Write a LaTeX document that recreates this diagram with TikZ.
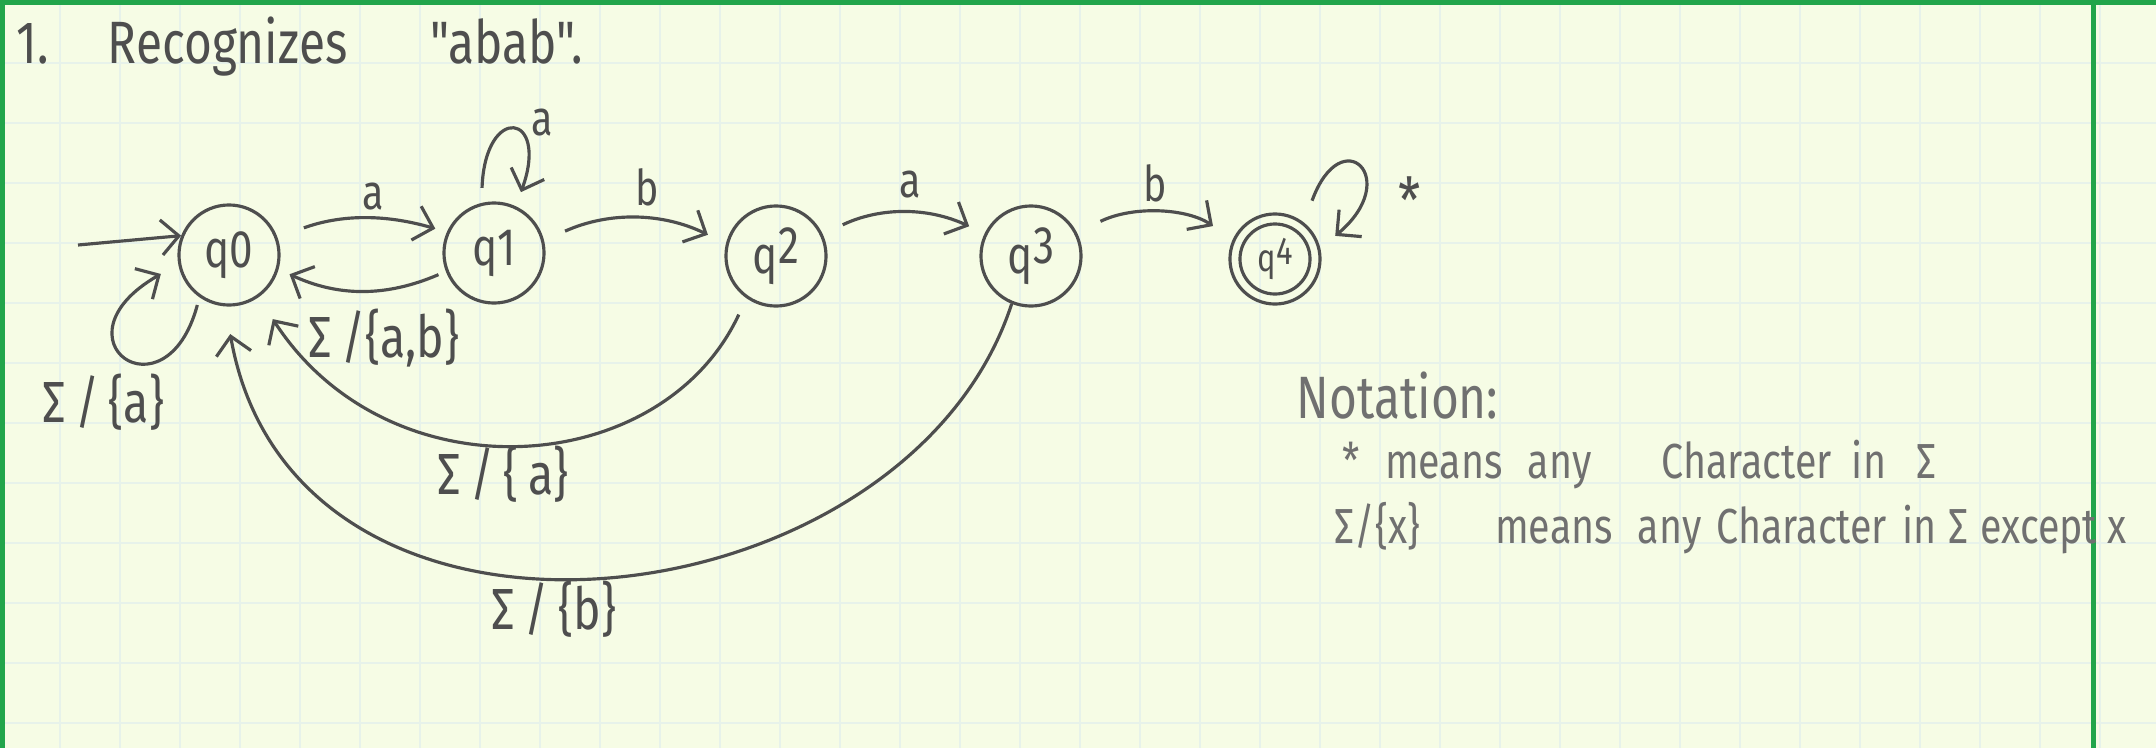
\documentclass[tikz,border=0pt]{standalone}
\usepackage{fontspec}
\setmainfont{Fira Sans}[FakeStretch=0.8]
\newfontfamily\plainquote{Fira Sans}[FakeStretch=0.8]
\usetikzlibrary{arrows.meta}
\definecolor{paper}{RGB}{246,252,229}
\definecolor{gridc}{RGB}{231,242,234}
\definecolor{border}{RGB}{34,165,75}
\definecolor{pencil}{RGB}{78,78,78}
\definecolor{pencilL}{RGB}{112,112,112}
\begin{document}
\begin{tikzpicture}[x=0.01cm, y=0.01cm,
  st/.style={circle, draw=pencil, line width=0.9pt, minimum size=1cm, inner sep=0pt,
    text=pencil, font=\fontsize{15}{15}\selectfont},
  tr/.style={draw=pencil, line width=0.9pt,
    -{Straight Barb[length=5pt,width=10pt,line width=0.9pt]}},
  lab/.style={text=pencil, inner sep=0pt},
  small/.style={font=\fontsize{14}{14}\selectfont},
  sig/.style={font=\fontsize{16.5}{16.5}\selectfont},
  note/.style={text=pencilL, inner sep=0pt, anchor=base west, font=\fontsize{14}{14}\selectfont}
]
% paper
\fill[paper] (0,0) rectangle (2156,-748);
\useasboundingbox (0,0) rectangle (2156,-748);
\foreach \gx in {60,120,...,2156} \draw[gridc, line width=0.5pt] (\gx,0) -- (\gx,-748);
\foreach \gy in {3,63,...,748} \draw[gridc, line width=0.5pt] (0,-\gy) -- (2156,-\gy);
\fill[border] (0,0) rectangle (2156,-5);
\fill[border] (0,0) rectangle (5,-748);
\fill[border] (2091,0) rectangle (2096,-748);

% title
\node[lab, anchor=base west, font=\fontsize{17}{17}\selectfont] (title) at (16,-63)
  {1.\hspace{0.59cm}Recognizes\hspace{0.83cm}{\plainquote "abab".}};

% states
\node[st] (q0) at (229,-255) {q0};
\node[st] (q1) at (494,-253) {q1};
\node[st] (q2) at (776,-256) {q\raisebox{0.35ex}{2}};
\node[st] (q3) at (1031,-256) {q\raisebox{0.35ex}{3}};
\node[st, minimum size=0.7cm, font=\fontsize{11}{11}\selectfont] (q4) at (1275,-259) {q\raisebox{0.3ex}{4}};
\draw[pencil, line width=0.9pt] (q4.center) circle[radius=0.45cm];

% initial arrow
\coordinate (init) at (78,-245);
\draw[tr] (init) -- (q0.158);

% transitions
\draw[tr, shorten <=0.28cm, shorten >=0.12cm] (q0.20) to[bend left=18] (q1.156);
\draw[tr, shorten <=0.08cm, shorten >=0.12cm] (q1.-159) to[bend left=24] (q0.-16);
\draw[tr, shorten <=0.15cm, shorten >=0.15cm] (q1.104) .. controls +(88:1cm) and +(70:1cm) .. (q1.65);
\draw[tr, shorten <=0.23cm, shorten >=0.2cm] (q1.14) to[bend left=25] (q2.166);
\draw[tr, shorten <=0.22cm, shorten >=0.17cm] (q2.25) to[bend left=25] (q3.154);
\draw[tr, shorten <=0.26cm, shorten >=0.34cm] (q3.27) to[bend left=30] (q4.158);
\draw[tr, shorten <=0.34cm, shorten >=0.31cm] (q4.46) .. controls +(70:1.2cm) and +(40:1.2cm) .. (q4.5);
\draw[tr, shorten <=0.08cm, shorten >=0.2cm] (q0.-125) .. controls +(-105:1.3cm) and +(-150:1.5cm) .. (q0.-170);
\draw[tr, shorten <=0.18cm, shorten >=0.26cm] (q2.-125) .. controls +(-115:2cm) and +(-57:2.4cm) .. (q0.-55);
\draw[tr, shorten >=0.28cm] (q3.-112) .. controls +(-108:3.4cm) and +(-80:4cm) .. (q0.-94);

% edge labels
\node[lab, small] (l01) at (373,-197) {a};
\node[lab, sig] (l10) at (384,-338) {Σ\,/\{a,b\}};
\node[lab, small] (l11) at (542,-123) {a};
\node[lab, small] (l12) at (647,-187) {b};
\node[lab, small] (l23) at (910,-185) {a};
\node[lab, small] (l34) at (1155,-183) {b};
\node[lab, font=\fontsize{18}{18}\selectfont] (l44) at (1410,-200) {*};
\node[lab, sig] (l00) at (103,-402) {Σ\,/\,\{a\}};
\node[lab, sig] (l20) at (503,-474) {Σ\,/\,\{\,a\}};
\node[lab, sig] (l30) at (554,-609) {Σ\,/\,\{b\}};

% notation
\node[lab, anchor=base west, text=pencilL, font=\fontsize{17}{17}\selectfont] (nt) at (1296,-418) {Notation:};
\node[note] (n1) at (1342,-478)
  {*\hspace{0.25cm}means\hspace{0.25cm}any\hspace{0.7cm}Character\hspace{0.2cm}in\hspace{0.3cm}Σ};
\node[note] (n2) at (1334,-543)
  {Σ/\{x\}\hspace{0.75cm}means\hspace{0.25cm}any\hspace{0.15cm}Character\hspace{0.15cm}in\hspace{0.12cm}Σ\hspace{0.12cm}except\hspace{0.1cm}x};
\end{tikzpicture}
\end{document}
